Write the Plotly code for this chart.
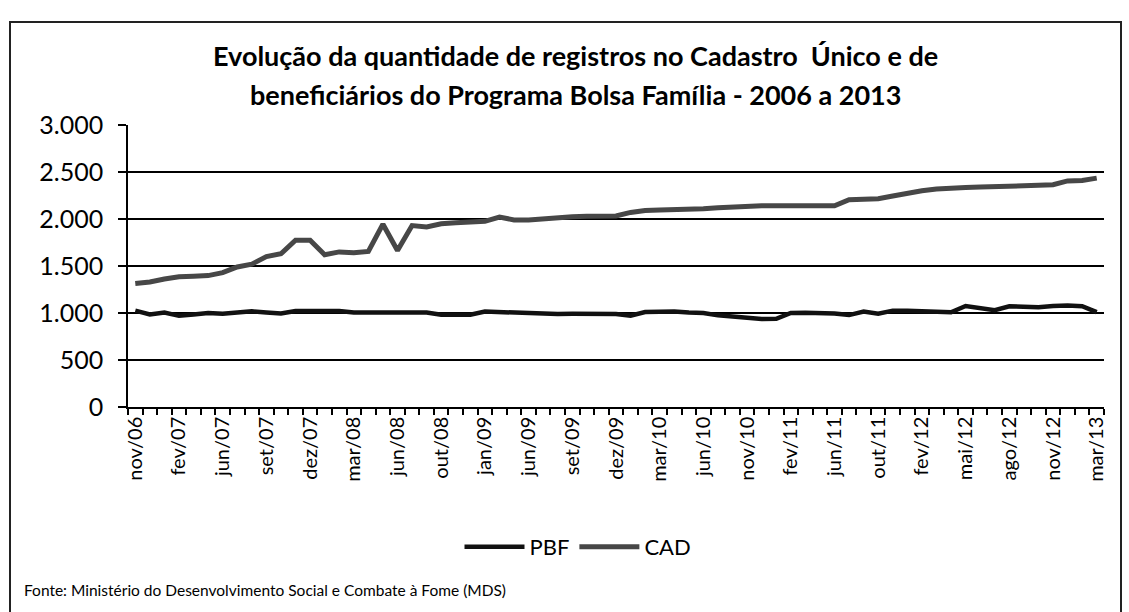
import plotly.graph_objects as go

categories = [
    "nov/06", "dez/06", "jan/07", "fev/07", "mar/07", "mai/07", "jun/07", "jul/07", "ago/07", "set/07",
    "out/07", "nov/07", "dez/07", "jan/08", "fev/08", "mar/08", "abr/08", "mai/08", "jun/08", "jul/08",
    "set/08", "out/08", "nov/08", "dez/08", "jan/09", "mar/09", "mai/09", "jun/09", "jul/09", "ago/09",
    "set/09", "out/09", "nov/09", "dez/09", "jan/10", "fev/10", "mar/10", "abr/10", "mai/10", "jun/10",
    "ago/10", "out/10", "nov/10", "dez/10", "jan/11", "fev/11", "mar/11", "mai/11", "jun/11", "jul/11",
    "set/11", "out/11", "nov/11", "jan/12", "fev/12", "mar/12", "abr/12", "mai/12", "jun/12", "jul/12",
    "ago/12", "set/12", "out/12", "nov/12", "dez/12", "fev/13", "mar/13",
]

pbf = [
    1025, 985, 1005, 970, 985, 1000, 992, 1005, 1018, 1005,
    995, 1020, 1022, 1025, 1022, 1005, 1005, 1008, 1010, 1012,
    1005, 982, 980, 982, 1015, 1010, 998, 995, 990, 990,
    992, 990, 985, 990, 972, 1010, 1012, 1015, 1005, 1000,
    975, 960, 938, 935, 938, 1000, 1002, 1003, 995, 978,
    1015, 992, 1025, 1025, 1020, 1015, 1008, 1075, 1055, 1030,
    1072, 1065, 1062, 1075, 1080, 1072, 1010,
]

cad = [
    1314, 1330, 1362, 1385, 1390, 1398, 1430, 1490, 1520, 1600,
    1630, 1775, 1775, 1620, 1650, 1642, 1655, 1945, 1665, 1930,
    1915, 1950, 1960, 1970, 1975, 2020, 1990, 1990, 2005, 2020,
    2025, 2028, 2030, 2032, 2070, 2090, 2095, 2100, 2095, 2110,
    2120, 2130, 2135, 2140, 2142, 2143, 2143, 2140, 2140, 2205,
    2210, 2215, 2245, 2275, 2300, 2318, 2330, 2335, 2340, 2342,
    2345, 2350, 2358, 2365, 2405, 2410, 2435,
]

label_step = 3
tick_text = [c if i % label_step == 0 else "" for i, c in enumerate(categories)]

title_lines = [
    "<b>Evolução da quantidade de registros no Cadastro  Único e de</b>",
    "<b>beneficiários do Programa Bolsa Família - 2006 a 2013</b>",
]
source_text = "Fonte: Ministério do Desenvolvimento Social e Combate à Fome (MDS)"

FONT = "Lato"

fig = go.Figure()
fig.add_trace(go.Scatter(x=categories, y=pbf, name="PBF", mode="lines",
                         line=dict(color="#111111", width=4.5)))
fig.add_trace(go.Scatter(x=categories, y=cad, name="CAD", mode="lines",
                         line=dict(color="#474747", width=5)))

W, H = 1129, 612
L, R, T, B = 128, 25, 125, 205
pw, ph = W - L - R, H - T - B

def px_x(x):
    return (x - L) / pw

def px_y(y):
    return (H - B - y) / ph

fig.update_layout(
    width=W, height=H,
    margin=dict(l=L, r=R, t=T, b=B),
    paper_bgcolor="white", plot_bgcolor="white",
    separators=",.",
    font=dict(family=FONT, color="black"),
    showlegend=True,
    legend=dict(orientation="h", x=px_x(578), xanchor="center", y=px_y(547), yanchor="middle",
                font=dict(family=FONT, size=22, color="black"), itemwidth=60,
                bgcolor="rgba(0,0,0,0)"),
    xaxis=dict(type="category", tickson="boundaries", tickvals=categories, ticktext=tick_text,
               tickangle=-90, ticks="outside", ticklen=6, tickcolor="black", tickwidth=1.5,
               showline=True, linecolor="black", linewidth=1.5, showgrid=False,
               tickfont=dict(family=FONT, size=20, color="black"), range=[-0.5, len(categories) - 0.5]),
    yaxis=dict(range=[0, 3000], dtick=500, tickformat=",d", showgrid=True, gridcolor="black",
               gridwidth=1.5, showline=True, linecolor="black", linewidth=1.5, ticks="outside",
               ticklen=8, tickcolor="black", tickwidth=1.5, zeroline=False,
               tickfont=dict(family=FONT, size=25, color="black"), ticklabelstandoff=10),
)

for line, ypx in zip(title_lines, [55, 95]):
    fig.add_annotation(text=line, xref="paper", yref="paper", x=px_x(575), y=px_y(ypx),
                       xanchor="center", yanchor="middle", showarrow=False,
                       font=dict(family=FONT, size=27, color="black"))

fig.add_annotation(text=source_text, xref="paper", yref="paper", x=px_x(22), y=px_y(590),
                   xanchor="left", yanchor="middle", showarrow=False,
                   font=dict(family=FONT, size=15.5, color="black"))

fig.add_shape(type="rect", xref="paper", yref="paper",
              x0=px_x(10), x1=px_x(1121), y0=px_y(640), y1=px_y(22),
              line=dict(color="#222222", width=2), fillcolor="rgba(0,0,0,0)", layer="below")

fig.write_html("out.html", config={"displayModeBar": False},
               post_script="document.body.style.margin='0px';")
